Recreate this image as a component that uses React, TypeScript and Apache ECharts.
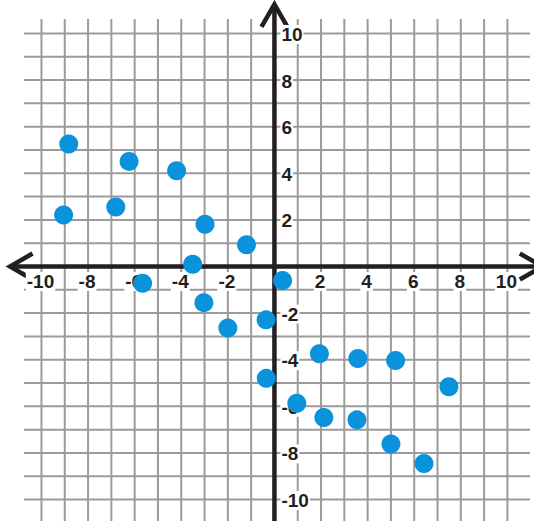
import React, { useEffect, useRef } from "react";
import * as echarts from "echarts";

// Scatter points
const xs = [-8.83, -6.24, -4.2, -9.05, -6.81, -2.98, -1.2, -3.51, -5.66, 0.35, -3.03, -2.0, -0.36, 1.93, 3.58, 5.2, -0.35, 7.49, 0.96, 2.12, 3.54, 5.0, 6.42];
const ys = [5.26, 4.51, 4.11, 2.21, 2.55, 1.81, 0.93, 0.1, -0.72, -0.6, -1.55, -2.64, -2.29, -3.74, -3.95, -4.03, -4.8, -5.16, -5.87, -6.48, -6.58, -7.62, -8.45];

// Grid lines and tick labels
const gridX = [-10, -9, -8, -7, -6, -5, -4, -3, -2, -1, 0, 1, 2, 3, 4, 5, 6, 7, 8, 9, 10];
const gridY = [-10, -9, -8, -7, -6, -5, -4, -3, -2, -1, 0, 1, 2, 3, 4, 5, 6, 7, 8, 9, 10];
const xLabels = [-10, -8, -6, -4, -2, 2, 4, 6, 8, 10];
const yLabels = [-10, -8, -6, -4, -2, 2, 4, 6, 8, 10];

// Visible window
const X_MIN = -10.75;
const X_MAX = 10.97;
const Y_MIN = -10.92;
const Y_MAX = 10.62;

const GRID_COLOR = "#9b9b9b";
const AXIS_COLOR = "#231f20";
const DOT_COLOR = "#0a93dc";
const FONT = 'bold 19px "Liberation Sans", Arial, sans-serif';

export default function App() {
  const ref = useRef<HTMLDivElement>(null);

  useEffect(() => {
    if (!ref.current) return;
    const chart = echarts.init(ref.current, undefined, { renderer: "svg" });

    const option: any = {
      animation: false,
      backgroundColor: "#ffffff",
      grid: { left: 24, right: 4, top: 19, bottom: 0 },
      xAxis: { type: "value", min: X_MIN, max: X_MAX, show: false },
      yAxis: { type: "value", min: Y_MIN, max: Y_MAX, show: false },
      series: [
        {
          type: "custom",
          name: "vgrid",
          silent: true,
          z: 1,
          data: gridX.map((v) => [v, 0]),
          renderItem: (params: any, api: any) => {
            const v = api.value(0);
            const a = api.coord([v, Y_MAX]);
            const b = api.coord([v, Y_MIN]);
            return {
              type: "line",
              shape: { x1: a[0], y1: a[1], x2: b[0], y2: b[1] },
              style: { stroke: GRID_COLOR, lineWidth: 2 },
            };
          },
        },
        {
          type: "custom",
          name: "hgrid",
          silent: true,
          z: 1,
          data: gridY.map((v) => [0, v]),
          renderItem: (params: any, api: any) => {
            const v = api.value(1);
            const a = api.coord([X_MIN, v]);
            const b = api.coord([X_MAX, v]);
            return {
              type: "line",
              shape: { x1: a[0], y1: a[1], x2: b[0], y2: b[1] },
              style: { stroke: GRID_COLOR, lineWidth: 2 },
            };
          },
        },
        {
          type: "custom",
          name: "axes",
          silent: true,
          z: 2,
          clip: false,
          data: [[0, 0]],
          renderItem: (params: any, api: any) => {
            const o = api.coord([0, 0]);
            const l = api.coord([-11.35, 0]);
            const r = api.coord([11.5, 0]);
            const t = api.coord([0, 11.25]);
            const bt = api.coord([0, -11.5]);
            const st = { stroke: AXIS_COLOR, lineWidth: 4.5, fill: "none", lineJoin: "miter" };
            const L = 26;
            const dx = L * Math.cos(Math.PI / 6);
            const dy = L * Math.sin(Math.PI / 6);
            return {
              type: "group",
              children: [
                { type: "line", shape: { x1: l[0] + 2, y1: o[1], x2: r[0] - 2, y2: o[1] }, style: st },
                { type: "line", shape: { x1: o[0], y1: t[1] + 2, x2: o[0], y2: bt[1] }, style: st },
                {
                  type: "polyline",
                  shape: { points: [[l[0] + dx, o[1] - dy], [l[0], o[1]], [l[0] + dx, o[1] + dy]] },
                  style: st,
                },
                {
                  type: "polyline",
                  shape: { points: [[r[0] - dx, o[1] - dy], [r[0], o[1]], [r[0] - dx, o[1] + dy]] },
                  style: st,
                },
                {
                  type: "polyline",
                  shape: { points: [[o[0] - dy, t[1] + dx], [o[0], t[1]], [o[0] + dy, t[1] + dx]] },
                  style: st,
                },
              ],
            };
          },
        },
        {
          type: "custom",
          name: "xlabels",
          silent: true,
          z: 3,
          data: xLabels.map((v) => [v, 0]),
          renderItem: (params: any, api: any) => {
            const v = api.value(0);
            const p = api.coord([v, 0]);
            return {
              type: "text",
              x: p[0] - 1,
              y: p[1] + 15,
              style: {
                text: String(v),
                font: FONT,
                fill: AXIS_COLOR,
                align: "center",
                verticalAlign: "middle",
                backgroundColor: "#ffffff",
                padding: [0, 1, 0, 1],
              },
            };
          },
        },
        {
          type: "custom",
          name: "ylabels",
          silent: true,
          z: 3,
          data: yLabels.map((v) => [0, v]),
          renderItem: (params: any, api: any) => {
            const v = api.value(1);
            const p = api.coord([0, v]);
            return {
              type: "text",
              x: p[0] + 6,
              y: p[1] + 1,
              style: {
                text: String(v),
                font: FONT,
                fill: AXIS_COLOR,
                align: "left",
                verticalAlign: "middle",
                backgroundColor: "#ffffff",
                padding: [0, 1, 0, 1],
              },
            };
          },
        },
        {
          type: "scatter",
          name: "points",
          z: 5,
          symbol: "circle",
          symbolSize: 19,
          itemStyle: { color: DOT_COLOR, opacity: 1 },
          data: xs.map((x, i) => [x, ys[i]]),
        },
      ],
    };

    chart.setOption(option);
    return () => chart.dispose();
  }, []);

  return (
    <div
      ref={ref}
      style={{ position: "fixed", left: 0, top: 0, width: 534, height: 521, background: "#fff" }}
    />
  );
}
